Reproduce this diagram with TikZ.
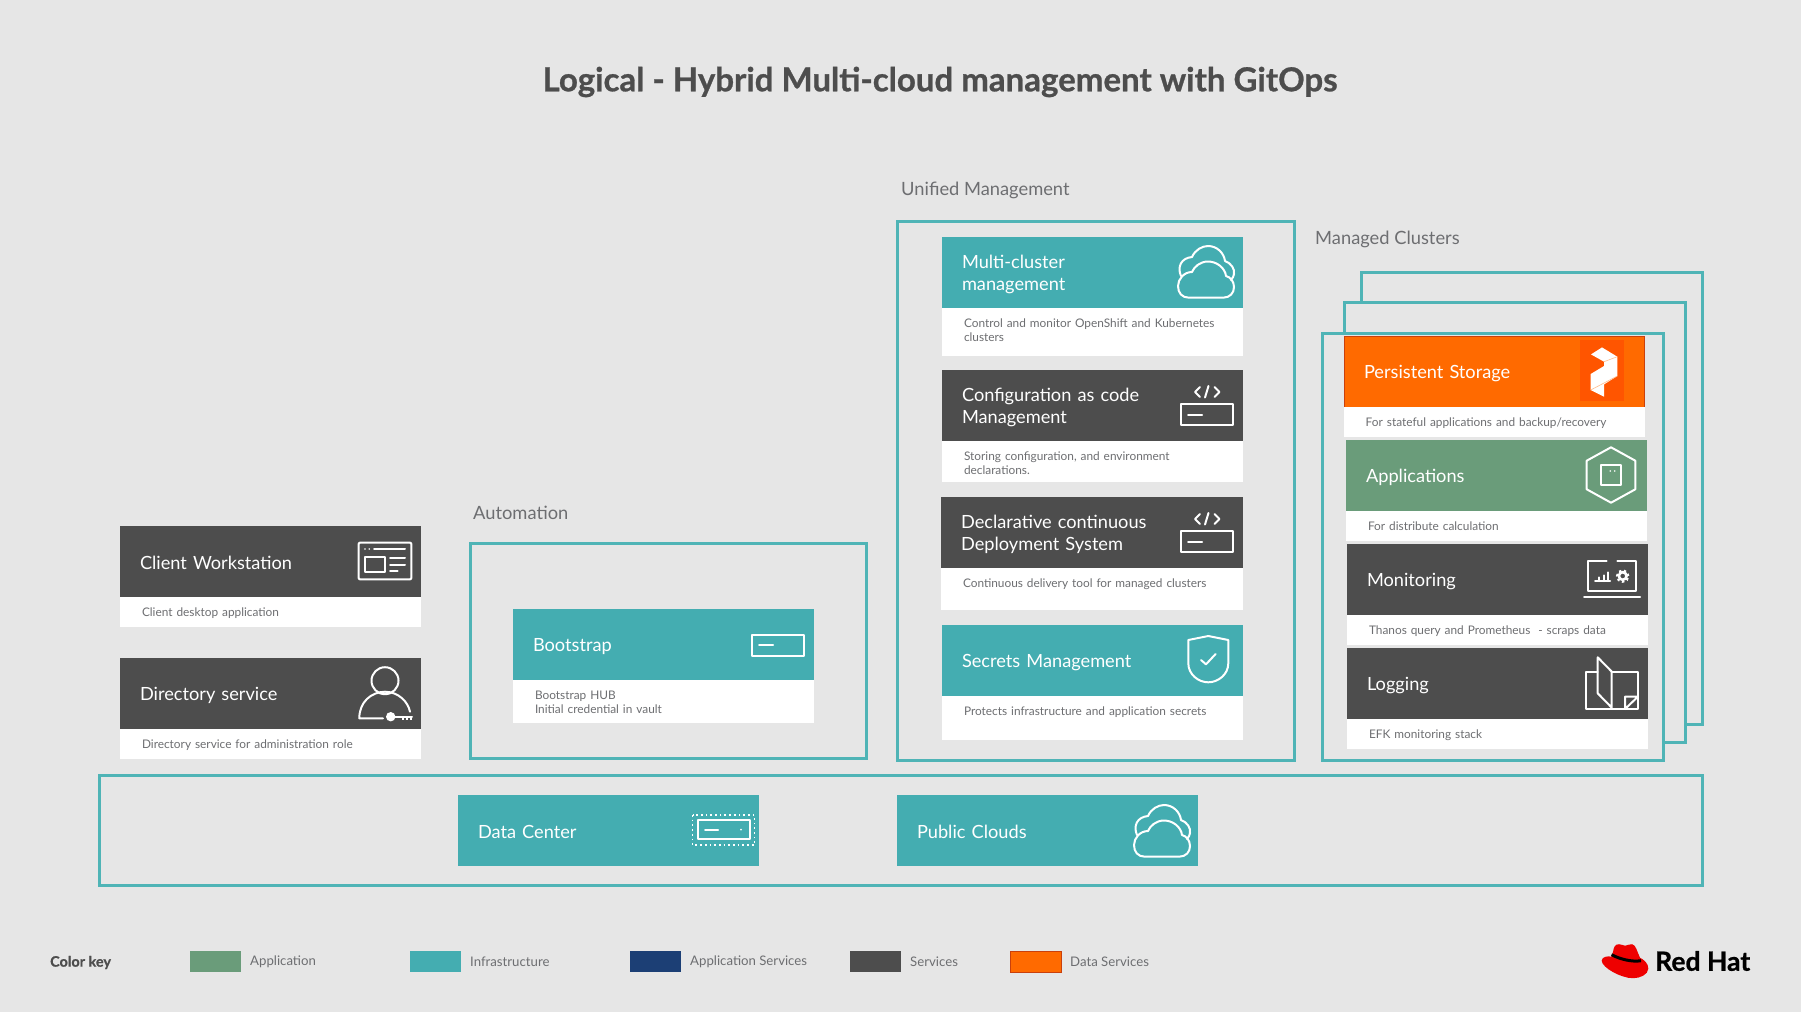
\documentclass[tikz,border=0pt]{standalone}
\usepackage{fontspec}
\setmainfont{Lato}[BoldFeatures={FakeBold=0.8}]
\usetikzlibrary{positioning}

\definecolor{pagebg}{HTML}{E6E6E6}
\definecolor{infrateal}{HTML}{44ADB1}
\definecolor{frameteal}{HTML}{4FB4B6}
\definecolor{svcdark}{HTML}{4D4D4D}
\definecolor{appgreen}{HTML}{6A9C7A}
\definecolor{appnavy}{HTML}{1C3F75}
\definecolor{dataorange}{HTML}{FF6A00}
\definecolor{dataedge}{HTML}{C9400C}
\definecolor{pxorange}{HTML}{FF5500}
\definecolor{subgray}{HTML}{6D6E71}
\definecolor{hatred}{HTML}{EE0000}

\tikzset{
    cardhead/.style={anchor=north west, text width=261pt, inner xsep=20pt, inner ysep=0pt, outer sep=0pt,
        minimum height=71pt, align=left, text=white, font=\fontsize{18.2}{22}\selectfont,
        execute at begin node=\rule{0pt}{16.5pt}},
    cardbody/.style={fill=white, text width=257pt, inner xsep=22pt, inner ysep=0pt, outer sep=0pt,
        align=left, text=subgray, font=\fontsize{11.85}{14}\selectfont,
        text height=19.5pt, text depth=#1pt-19.5pt},
    framebox/.style={draw=frameteal, fill=pagebg, line width=3pt, anchor=north west, outer sep=0pt, inner sep=0pt},
    sectionlabel/.style={anchor=west, text=subgray, inner sep=0pt, font=\fontsize{18.3}{20}\selectfont},
    keyswatch/.style={anchor=north west, minimum width=51pt, minimum height=21pt, inner sep=0pt, outer sep=0pt},
    keylabel/.style={text=subgray, inner sep=0pt, font=\fontsize{13.2}{15}\selectfont},
    iconline/.style={draw=white, line width=2pt, line cap=round, line join=round},
    cloudicon/.pic={
        \draw[iconline] (-17,25.7) -- (17,25.7) .. controls (24,25.7) and (28,21) .. (28,15)
            .. controls (28,9) and (24,5) .. (20,4) .. controls (19,-4) and (11,-10.5) .. (2,-10.5)
            .. controls (-6,-10.5) and (-12,-5) .. (-14,0) .. controls (-22,0) and (-28,7) .. (-28,14)
            .. controls (-28,21) and (-24,25.7) .. (-17,25.7) -- cycle;
        \draw[iconline] (-25,4) .. controls (-29,-5) and (-25,-14) .. (-14,-15)
            .. controls (-11,-22) and (-4,-26) .. (2,-26) .. controls (11,-26) and (18,-19) .. (19,-11)
            .. controls (25,-9) and (29,-3) .. (28,2) .. controls (27.5,4) and (27,6) .. (25,8);
    },
    servericon/.pic={
        \draw[iconline] (-26,-10.5) rectangle (26,10.5);
        \draw[iconline] (-19,0) -- (-5,0);
    },
    codeicon/.pic={
        \draw[iconline] (-7,-27.5) -- (-12,-22.5) -- (-7,-17.5);
        \draw[iconline] (7.5,-27.5) -- (12.5,-22.5) -- (7.5,-17.5);
        \draw[iconline] (1.5,-28.5) -- (-2,-17);
    },
    dcicon/.pic={
        \draw[iconline] (-26,-9.5) rectangle (26,9.5);
        \draw[iconline] (-19,0) -- (-6,0);
        \fill[white] (17,0) circle (1pt);
        \draw[white, line width=1.7pt, dash pattern=on 1.7pt off 3pt] (-31.5,-14.5) rectangle (30.5,15.5);
    },
    workstationicon/.pic={
        \draw[iconline, rounded corners=1pt] (-26.3,-18.3) rectangle (26.3,18.3);
        \fill[white] (-20,-12) circle (.9pt) (-15.7,-12) circle (.9pt);
        \draw[iconline] (-11,-12) -- (20,-12);
        \draw[iconline] (-20,-3.7) rectangle (0,11.3);
        \draw[iconline] (5,-2.7) -- (20,-2.7);
        \draw[iconline] (5,4) -- (20,4);
        \draw[iconline] (5,10) -- (12.7,10);
    },
    usericon/.pic={
        \draw[iconline] (0,-24.3) circle (13.5pt);
        \draw[iconline] (-2,13.3) -- (-25.7,13.3) .. controls (-25.7,-3) and (-14,-13) .. (0,-13.3)
            .. controls (14,-13) and (23,-3) .. (25,6.7);
        \fill[white] (5.7,11.7) circle (4.7pt);
        \draw[iconline] (10,11.7) -- (27,11.7);
        \draw[white, line width=1.2pt] (18,11.7) -- (18,15) (22,11.7) -- (22,15) (26,11.7) -- (26,15);
    },
    shieldicon/.pic={
        \draw[iconline] (0,-22.3) -- (20,-18.3) -- (20,5) .. controls (20,16) and (10,24) .. (0,24)
            .. controls (-10,24) and (-20,16) .. (-20,5) -- (-20,-18.3) -- cycle;
        \draw[iconline] (-7.3,1.7) -- (-2.3,6) -- (7.3,-4.3);
    },
    portworxicon/.pic={
        \fill[white] (0,-24.3) -- (15.3,-15) -- (15.3,4.3) -- (2,12.7) -- (2,25) -- (-11.3,18.3)
            -- (-11.3,2.3) -- (2,-5.7) -- (2,-10) -- (-11,-17.3) -- cycle;
        \draw[dataorange!45, line width=.6pt] (2,-10) -- (15.3,-15) (-11.3,18.3) -- (15.3,4.3);
    },
    hexappicon/.pic={
        \draw[iconline] (0,-27.7) -- (24.3,-14.3) -- (24.3,14.3) -- (0,27.7) -- (-24.3,14.3) -- (-24.3,-14.3) -- cycle;
        \draw[iconline] (-10,-10) rectangle (10,10);
        \fill[white] (-.7,-4) circle (.9pt) (3.7,-4) circle (.9pt);
    },
    monitoricon/.pic={
        \draw[iconline] (-5,-17.7) -- (-24,-17.7) -- (-24,12.3) -- (24.3,12.3) -- (24.3,-17.7) -- (5.7,-17.7);
        \draw[iconline] (-27.7,18.3) -- (28.3,18.3);
        \draw[iconline] (-16.7,2.7) -- (-1.7,2.7);
        \draw[iconline] (-13,2.7) -- (-13,-1);
        \draw[iconline] (-8,2.7) -- (-8,-3);
        \draw[iconline] (-3.5,2.7) -- (-3.5,-6);
        \draw[white, line width=2.6pt] (11,-2.3) circle (3.8pt);
        \draw[white, line width=2.4pt, dash pattern=on 2.4pt off 2.6pt] (11,-2.3) circle (5.6pt);
    },
    logbookicon/.pic={
        \draw[iconline] (-14,-11.7) -- (-25.7,-11.7) -- (-25.7,25.7) -- (26.3,25.7) -- (26.3,-11.7) -- (0,-11.7);
        \draw[iconline] (-14,-26) -- (0,-11.7) -- (0,24.3) -- (-14,10) -- cycle;
        \draw[iconline] (13.3,25.7) -- (13.3,13.3) -- (26.3,13.3) -- (13.3,25.7);
    },
    hatlogo/.pic={
        \fill[hatred] (-12,-10) .. controls (-11,-15) and (-10,-17.5) .. (-6,-17.5)
            .. controls (-3,-17.5) and (-2,-16) .. (0,-16) .. controls (3,-16) and (4,-18) .. (7,-17.5)
            .. controls (11,-17) and (12,-10) .. (15,-4) .. controls (19,-2) and (23.5,2) .. (23.3,7)
            .. controls (23,13) and (15,16.5) .. (8,16.5) .. controls (-4,16.5) and (-23,6) .. (-23.3,-1)
            .. controls (-23.3,-5) and (-17,-6) .. (-13.5,-5) -- cycle;
        \draw[black, line width=3pt] (-13.5,-7) .. controls (-5,-2.5) and (7,0.5) .. (16,-1);
    }
}

\begin{document}
\begin{tikzpicture}[x=1pt, y=-1pt]
    \useasboundingbox (0,0) rectangle (1801,1012);
    \fill[pagebg] (0,0) rectangle (1801,1012);
    % Title
    \node[text=svcdark, inner sep=0pt, font=\fontsize{33}{36}\selectfont\bfseries] (title) at (940,82) {Logical - Hybrid Multi-cloud management with GitOps};
    % Section labels
    \node[sectionlabel] (unifiedlabel) at (901,190.5) {Unified Management};
    \node[sectionlabel] (managedlabel) at (1315,239.5) {Managed Clusters};
    \node[sectionlabel] (automationlabel) at (473,513) {Automation};
    % Frames
    \node[framebox, minimum width=397pt, minimum height=539pt] (unifiedbox) at (897,221) {};
    \node[framebox, minimum width=396pt, minimum height=215pt] (automationbox) at (470,543) {};
    \node[framebox, minimum width=341pt, minimum height=452pt] (backbox) at (1361,272) {};
    \node[framebox, minimum width=341pt, minimum height=440pt] (middlebox) at (1344,302) {};
    \node[framebox, minimum width=341pt, minimum height=427pt] (frontbox) at (1322,333) {};
    \node[framebox, minimum width=1603pt, minimum height=110pt] (basebox) at (99,775) {};
    % Left column
    \node[cardhead, fill=svcdark] (workstation) at (120,526) {Client Workstation};
    \node[cardbody=30, below=0pt of workstation] (workstationtext) {Client desktop application};
    \pic at (385,561) {workstationicon};
    \node[cardhead, fill=svcdark] (directory) at (120,658) {Directory service};
    \node[cardbody=30, below=0pt of directory] (directorytext) {Directory service for administration role};
    \pic at (385,705) {usericon};
    % Automation
    \node[cardhead, fill=infrateal] (bootstrap) at (513,609) {Bootstrap};
    \node[cardbody=43, below=0pt of bootstrap] (bootstraptext) {Bootstrap HUB\\Initial credential in vault};
    \pic at (778,645) {servericon};
    % Unified management
    \node[cardhead, fill=infrateal] (multicluster) at (942,237) {Multi-cluster\\management};
    \node[cardbody=48, below=0pt of multicluster] (multiclustertext) {Control and monitor OpenShift and Kubernetes\\clusters};
    \pic at (1206,272) {cloudicon};
    \node[cardhead, fill=svcdark] (configcode) at (942,370) {Configuration as code\\Management};
    \node[cardbody=41, below=0pt of configcode] (configcodetext) {Storing configuration, and environment\\declarations.};
    \pic at (1207,414.5) {servericon};
    \pic at (1207,414.5) {codeicon};
    \node[cardhead, fill=svcdark, text width=262pt] (declarative) at (941,497) {Declarative continuous\\Deployment System};
    \node[cardbody=42, below=0pt of declarative, text width=258pt] (declarativetext) {Continuous delivery tool for managed clusters};
    \pic at (1207,541.5) {servericon};
    \pic at (1207,541.5) {codeicon};
    \node[cardhead, fill=infrateal] (secrets) at (942,625) {Secrets Management};
    \node[cardbody=44, below=0pt of secrets] (secretstext) {Protects infrastructure and application secrets};
    \pic at (1208.3,658.3) {shieldicon};
    % Managed clusters
    \node[cardhead, fill=dataorange, draw=dataedge, line width=.8pt, text width=260.4pt] (storage) at (1344,336) {Persistent Storage};
    \node[cardbody=30, below=0pt of storage] (storagetext) {For stateful applications and backup/recovery};
    \node[fill=pxorange, minimum width=44pt, minimum height=61pt, inner sep=0pt] (pxsquare) at (1602,370.5) {};
    \pic at (1602,371.7) {portworxicon};
    \node[cardhead, fill=appgreen] (applications) at (1346,440) {Applications};
    \node[cardbody=30, below=0pt of applications] (applicationstext) {For distribute calculation};
    \pic at (1611,475) {hexappicon};
    \node[cardhead, fill=svcdark] (monitoring) at (1347,544) {Monitoring};
    \node[cardbody=30, below=0pt of monitoring] (monitoringtext) {Thanos query and Prometheus~~- scraps data};
    \pic at (1611.7,578.3) {monitoricon};
    \node[cardhead, fill=svcdark] (logging) at (1347,648) {Logging};
    \node[cardbody=30, below=0pt of logging] (loggingtext) {EFK monitoring stack};
    \pic at (1611.7,683.3) {logbookicon};
    % Base
    \node[cardhead, fill=infrateal] (datacenter) at (458,795) {Data Center};
    \pic at (724,829.5) {dcicon};
    \node[cardhead, fill=infrateal] (publicclouds) at (897,795) {Public Clouds};
    \pic at (1162,831) {cloudicon};
    % Color key
    \node[anchor=west, inner sep=0pt, text=svcdark, font=\fontsize{14.4}{16}\selectfont\bfseries] (colorkey) at (50,962.5) {Color key};
    \node[keyswatch, fill=appgreen] (keyapp) at (190,951) {};
    \node[keylabel, right=9pt of keyapp] (keyapplabel) {Application};
    \node[keyswatch, fill=infrateal] (keyinfra) at (410,951) {};
    \node[keylabel, right=9pt of keyinfra] (keyinfralabel) {Infrastructure};
    \node[keyswatch, fill=appnavy] (keyappsvc) at (630,951) {};
    \node[keylabel, right=9pt of keyappsvc] (keyappsvclabel) {Application Services};
    \node[keyswatch, fill=svcdark] (keysvc) at (850,951) {};
    \node[keylabel, right=9pt of keysvc] (keysvclabel) {Services};
    \node[keyswatch, fill=dataorange, draw=dataedge, line width=.5pt] (keydata) at (1010,951) {};
    \node[keylabel, right=9pt of keydata] (keydatalabel) {Data Services};
    % Logo
    \pic at (1625,961.7) {hatlogo};
    \node[anchor=west, inner sep=0pt, text=black, font=\fontsize{26.5}{28}\selectfont\bfseries] (redhat) at (1655,961) {Red Hat};
\end{tikzpicture}
\end{document}
